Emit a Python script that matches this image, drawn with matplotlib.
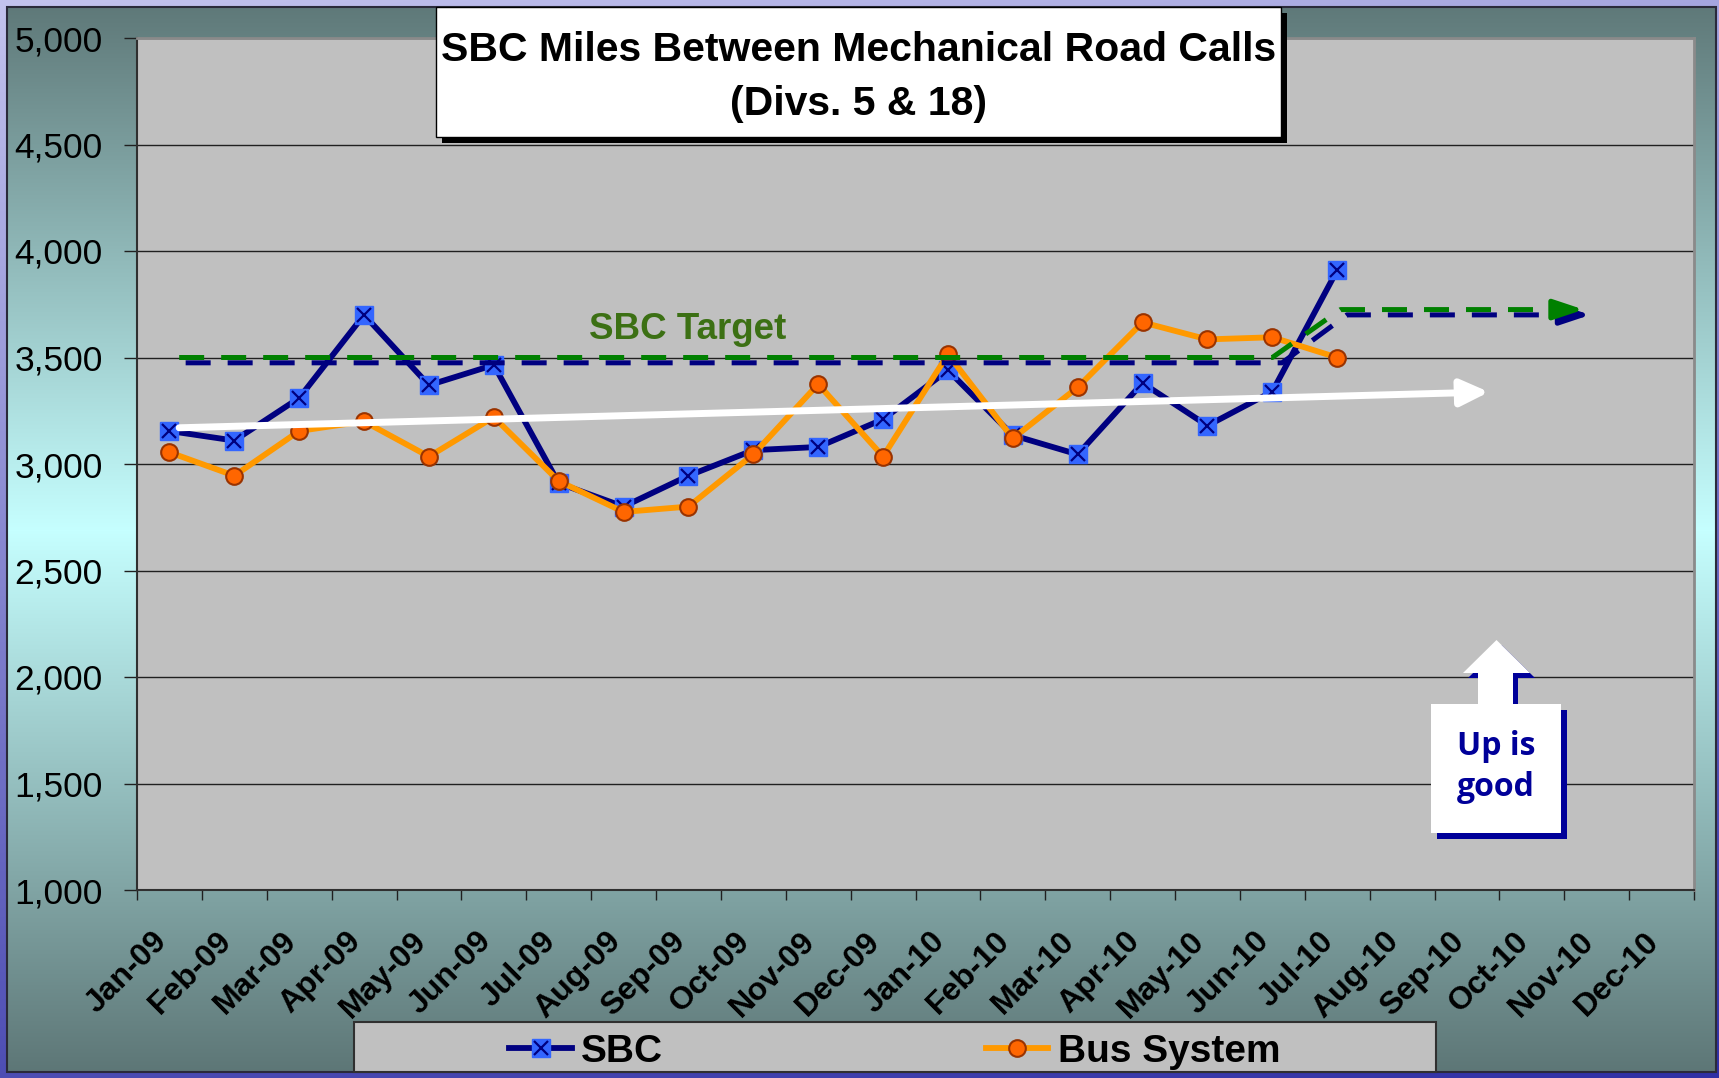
import numpy as np
import matplotlib.pyplot as plt
from matplotlib.patches import Rectangle, Polygon

plt.rcParams['font.family'] = ['Liberation Sans', 'DejaVu Sans']

months = ['Jan-09', 'Feb-09', 'Mar-09', 'Apr-09', 'May-09', 'Jun-09',
          'Jul-09', 'Aug-09', 'Sep-09', 'Oct-09', 'Nov-09', 'Dec-09',
          'Jan-10', 'Feb-10', 'Mar-10', 'Apr-10', 'May-10', 'Jun-10',
          'Jul-10', 'Aug-10', 'Sep-10', 'Oct-10', 'Nov-10', 'Dec-10']
sbc = [3155, 3110, 3310, 3700, 3370, 3465, 2910, 2800, 2945, 3065,
       3080, 3210, 3440, 3135, 3045, 3380, 3180, 3340, 3910]
bus = [3055, 2945, 3155, 3200, 3035, 3220, 2920, 2775, 2800, 3045,
       3375, 3035, 3515, 3120, 3360, 3665, 3585, 3595, 3500]
y_ticks = [1000, 1500, 2000, 2500, 3000, 3500, 4000, 4500, 5000]
y_labels = ['1,000', '1,500', '2,000', '2,500', '3,000', '3,500', '4,000', '4,500', '5,000']

# target arrows (green = target, blue = its shadow) and white trend arrow
green_x = [0.15, 17.0, 18.05, 21.45]
green_y = [3500, 3500, 3725, 3725]
green_tip = 21.8
blue_x = [0.25, 17.15, 18.15, 21.55]
blue_y = [3475, 3475, 3700, 3700]
blue_tip = 21.9
trend_x = [0.15, 20.34]
trend_y = [3170, 3338]

W, H = 1719, 1078
fig = plt.figure(figsize=(W / 100, H / 100), dpi=100)

# ---- backgrounds (pixel coords) ----
bg = fig.add_axes([0, 0, 1, 1], zorder=-1)
bg.set_xlim(0, W)
bg.set_ylim(H, 0)
bg.axis('off')
yy, xx = np.mgrid[0:H, 0:W]
t = (yy / H) * 0.8 + (xx / W) * 0.2
c0 = np.array([195, 195, 238]) / 255
c1 = np.array([48, 48, 165]) / 255
outer = c0[None, None, :] * (1 - t[..., None]) + c1[None, None, :] * t[..., None]
bg.imshow(outer, extent=(0, W, H, 0), aspect='auto')

# teal panel: dark at top and bottom, light cyan in the middle
rows = np.arange(7, 1072)
stops = [7, 530, 1072]
top_c = (95, 121, 121)
mid_c = (198, 255, 255)
bot_c = (93, 118, 118)
panel = np.zeros((len(rows), 2, 3))
for k in range(3):
    panel[:, :, k] = np.interp(rows, stops, [top_c[k], mid_c[k], bot_c[k]])[:, None] / 255
bg.imshow(panel, extent=(7, 1716, 1072, 7), aspect='auto')
bg.add_patch(Rectangle((7, 7), 1709, 1065, fill=False, edgecolor='#2a2a3a', lw=1.5))

# ---- main chart ----
ax = fig.add_axes([137 / W, 1 - 890 / H, (1694 - 137) / W, (890 - 38) / H], zorder=0)
ax.set_facecolor('#C0C0C0')
x = np.arange(len(sbc))

l1, = ax.plot(x, sbc, color='#000080', lw=4.2, marker='s', ms=13,
              mfc='#3366FF', mec='#3366FF', zorder=4)
l1x, = ax.plot(x, sbc, ls='none', marker='x', ms=9.5, mec='#000080', mew=1.6, zorder=4)
l2, = ax.plot(x, bus, color='#FF9900', lw=4.2, marker='o', ms=12,
              mfc='#FF6600', mec='#993300', mew=1.5, zorder=5)

dash = (0, (5.0, 3.4))
ax.plot(blue_x, blue_y, color='#000080', lw=3.6, ls=dash, zorder=6)
ax.annotate('', xy=(blue_tip, blue_y[-1]), xytext=(blue_x[-1], blue_y[-1]),
            arrowprops=dict(arrowstyle='-|>,head_length=1.8,head_width=0.6',
                            color='#000080', lw=3.6, shrinkA=0, shrinkB=0), zorder=6)
ax.plot(green_x, green_y, color='#008000', lw=3.6, ls=dash, zorder=7)
ax.annotate('', xy=(green_tip, green_y[-1]), xytext=(green_x[-1], green_y[-1]),
            arrowprops=dict(arrowstyle='-|>,head_length=1.8,head_width=0.6',
                            color='#008000', lw=3.6, shrinkA=0, shrinkB=0), zorder=7)
ax.annotate('', xy=(trend_x[1], trend_y[1]), xytext=(trend_x[0], trend_y[0]),
            arrowprops=dict(arrowstyle='-|>,head_length=1.7,head_width=0.8',
                            color='white', lw=5, shrinkA=0, shrinkB=0), zorder=8)
ax.text(7.99, 3632, 'SBC Target', color='#3C7014', fontsize=26.5,
        fontweight='bold', ha='center', va='center', zorder=8)

ax.set_xlim(-0.5, 23.5)
ax.set_ylim(1000, 5000)
ax.set_yticks(y_ticks)
ax.set_yticklabels(y_labels, fontsize=25.5)
ax.set_xticks(np.arange(-0.5, 24.5, 1))
ax.set_xticklabels([])
# month labels, rotated, ending just left of each category centre
for i, m in enumerate(months):
    ax.annotate(m, xy=(i, 0), xycoords=ax.get_xaxis_transform(),
                xytext=(-13, -26), textcoords='offset points', rotation=45,
                ha='right', va='top', rotation_mode='anchor', fontsize=23,
                fontweight='bold', annotation_clip=False)
ax.tick_params(axis='x', which='major', length=7, width=1, color='#202020')
ax.tick_params(axis='y', length=9.5, width=1, color='#202020', pad=15)
ax.grid(axis='y', color='#202020', lw=1)
ax.set_axisbelow(True)
for s in ['left', 'bottom']:
    ax.spines[s].set_color('#303030')
    ax.spines[s].set_linewidth(1.5)
for s in ['top', 'right']:
    ax.spines[s].set_color('#8a8a8a')
    ax.spines[s].set_linewidth(2)

# ---- overlays (pixel coords) ----
ov = fig.add_axes([0, 0, 1, 1], zorder=5)
ov.set_xlim(0, W)
ov.set_ylim(H, 0)
ov.axis('off')

# title box
ov.add_patch(Rectangle((442, 13), 845, 130, facecolor='black', edgecolor='none'))
ov.add_patch(Rectangle((436, 7), 845, 130, facecolor='white', edgecolor='black', lw=1))
ov.text(859, 50, 'SBC Miles Between Mechanical Road Calls', fontsize=29.5,
        fontweight='bold', ha='center', va='center')
ov.text(859, 104, '(Divs. 5 & 18)', fontsize=29.5, fontweight='bold',
        ha='center', va='center')

# "Up is good" callout
arrow_pts = [(1478, 704), (1478, 673), (1463, 673), (1496.5, 640),
             (1530, 673), (1513, 673), (1513, 704)]
shadow_pts = [(px + 5, py + 5) for px, py in arrow_pts]
ov.add_patch(Polygon(shadow_pts, closed=True, facecolor='#000099', edgecolor='none'))
ov.add_patch(Rectangle((1437, 710), 130, 129, facecolor='#000099', edgecolor='none'))
ov.add_patch(Polygon(arrow_pts, closed=True, facecolor='white', edgecolor='none'))
ov.add_patch(Rectangle((1431, 704), 130, 129, facecolor='white', edgecolor='none'))
ov.text(1496, 767, 'Up is\ngood', color='#000099', fontsize=23, fontweight='bold',
        family=['Open Sans', 'DejaVu Sans'], ha='center', va='center', linespacing=1.3)

# legend box
ov.add_patch(Rectangle((354, 1022), 1082, 50, facecolor='#C0C0C0', edgecolor='#303030', lw=1.5))
ov.legend([(l1, l1x), l2], ['SBC', 'Bus System'], loc='center',
          bbox_to_anchor=(895 / W, 1 - 1052 / H), bbox_transform=fig.transFigure,
          ncol=2, frameon=False, handlelength=1.6, handletextpad=0.25,
          columnspacing=8.3, prop={'size': 28, 'weight': 'bold'})

fig.savefig('out.png', dpi=100)
